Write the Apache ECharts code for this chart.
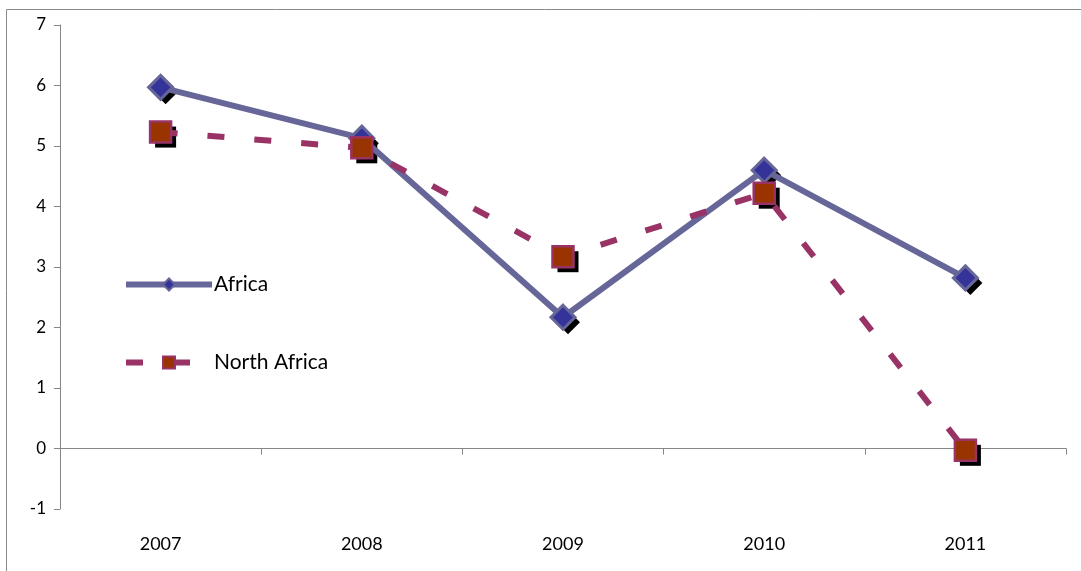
<!DOCTYPE html>
<html>
<head>
<meta charset="utf-8">
<script src="https://cdn.jsdelivr.net/npm/echarts@6/dist/echarts.min.js"></script>
<style>
html,body{margin:0;padding:0;background:#fff;}
#chart{width:1081px;height:571px;}
</style>
</head>
<body>
<div id="chart"></div>
<script>
var categories = ['2007', '2008', '2009', '2010', '2011'];
var africa = [5.97, 5.13, 2.17, 4.6, 2.82];
var northAfrica = [5.23, 4.97, 3.17, 4.22, -0.03];
var yTicks = { min: -1, max: 7, interval: 1 };

var chart = echarts.init(document.getElementById('chart'));
var font = 'Lato, "Open Sans", sans-serif';

function shadowSeries(name, data, symbol, size) {
  return {
    name: name + ' shadow',
    type: 'line',
    data: data,
    symbol: symbol,
    symbolSize: size,
    symbolOffset: [5, 5],
    z: 1,
    silent: true,
    lineStyle: { width: 0, opacity: 0 },
    itemStyle: { color: '#000', borderWidth: 0 }
  };
}

chart.setOption({
  animation: false,
  backgroundColor: '#fff',
  graphic: [{
    type: 'rect', left: 4, top: 7,
    shape: { width: 1200, height: 700 },
    style: { fill: 'none', stroke: '#8a8a8a', lineWidth: 1 },
    z: -10
  }],
  grid: { left: 60, right: 15, top: 25, bottom: 62 },
  legend: {
    orient: 'vertical',
    left: 118, top: 269,
    itemWidth: 86, itemHeight: 15,
    itemGap: 57,
    lineStyle: { width: 6 },
    textStyle: { fontFamily: font, fontSize: 21, color: '#000', padding: [0,0,0,-3] },
    data: ['Africa', 'North Africa']
  },
  xAxis: [{
    type: 'category',
    data: categories,
    position: 'bottom',
    axisLine: { show: false, onZero: false },
    axisTick: { show: false },
    axisLabel: { fontFamily: font, fontSize: 18, color: '#000', margin: 26 }
  }, {
    type: 'category',
    data: categories,
    position: 'bottom',
    axisLine: { show: true, onZero: true, lineStyle: { color: '#868686', width: 1 } },
    axisTick: { show: true, length: 6, lineStyle: { color: '#868686' } },
    axisLabel: { show: false }
  }],
  yAxis: {
    type: 'value',
    min: yTicks.min, max: yTicks.max, interval: yTicks.interval,
    axisLine: { show: true, lineStyle: { color: '#868686' } },
    axisTick: { show: true, length: 6, lineStyle: { color: '#868686' } },
    splitLine: { show: false },
    axisLabel: { fontFamily: font, fontSize: 17, color: '#000', margin: 14 }
  },
  series: [
    shadowSeries('Africa', africa, 'diamond', 24),
    shadowSeries('North Africa', northAfrica, 'rect', 21),
    {
      name: 'Africa',
      type: 'line',
      data: africa,
      symbol: 'diamond',
      symbolSize: 24,
      z: 2,
      lineStyle: { color: '#666699', width: 6 },
      itemStyle: { color: '#333399', borderColor: '#666699', borderWidth: 3 }
    }, {
      name: 'North Africa',
      type: 'line',
      data: northAfrica,
      symbol: 'rect',
      symbolSize: 21,
      z: 2,
      lineStyle: { color: '#993366', width: 6, type: [17, 30] },
      itemStyle: { color: '#993300', borderColor: '#993366', borderWidth: 2.5 }
    }
  ]
});
</script>
</body>
</html>
